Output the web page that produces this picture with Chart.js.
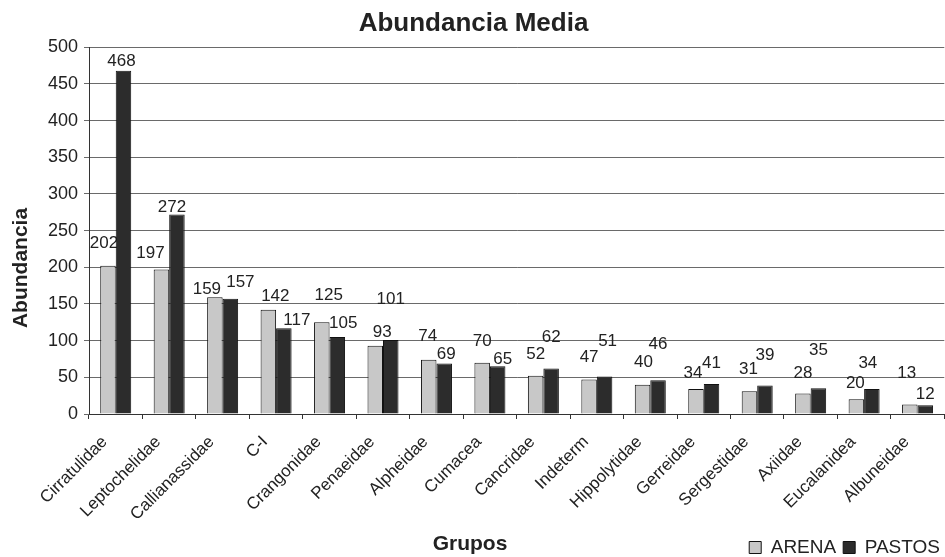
<!DOCTYPE html>
<html>
<head>
<meta charset="utf-8">
<script src="https://cdn.jsdelivr.net/npm/chart.js@4/dist/chart.umd.min.js"></script>
<style>
  html, body { margin: 0; padding: 0; background: #ffffff; }
  #wrap { width: 945px; height: 557px; }
</style>
</head>
<body>
<div id="wrap"><canvas id="chart" width="945" height="557"></canvas></div>
<script>
// Mean abundance per group, sand (ARENA) vs seagrass (PASTOS)
const groups = ['Cirratulidae', 'Leptochelidae', 'Callianassidae', 'C-I', 'Crangonidae', 'Penaeidae',
  'Alpheidae', 'Cumacea', 'Cancridae', 'Indeterm', 'Hippolytidae', 'Gerreidae', 'Sergestidae',
  'Axiidae', 'Eucalanidea', 'Albuneidae'];
const arena  = [202, 197, 159, 142, 125, 93, 74, 70, 52, 47, 40, 34, 31, 28, 20, 13];
const pastos = [468, 272, 157, 117, 105, 101, 69, 65, 62, 51, 46, 41, 39, 35, 34, 12];
const yTicks = [0, 50, 100, 150, 200, 250, 300, 350, 400, 450, 500];

// Hand placement of the value labels (px shift from the default spot above each bar)
const arenaLabelShift  = [[-4,-13],[-11,-6],[-8,2],[7,-4],[7,-17],[7,-3],[-1,-13],[0,-11],
  [0,-12],[0,-12],[1,-12],[-3,-6],[-1,-12],[0,-10],[-1,-6],[-3,-21]];
const pastosLabelShift = [[-2,1],[-5,3],[10,-7],[13,2],[6,-4],[0,-31],[2,1],[5,3],
  [0,-21],[3,-25],[0,-26],[0,-11],[0,-20],[0,-28],[-4,-16],[0,-1]];

const FONT = '"Liberation Sans", Arial, Helvetica, sans-serif';
const TEXT = '#222222';
const PLOT_BOTTOM = 414, PLOT_LEFT = 89;
const PAD_BOTTOM = -10;

// Value labels go in before the bars, so a bar may cover a neighbouring label
const valueLabels = {
  id: 'valueLabels',
  beforeDatasetsDraw(chart) {
    const ctx = chart.ctx;
    const shifts = [arenaLabelShift, pastosLabelShift];
    ctx.save();
    ctx.font = '17px ' + FONT;
    ctx.fillStyle = TEXT;
    ctx.textAlign = 'center';
    ctx.textBaseline = 'middle';
    chart.data.datasets.forEach((ds, di) => {
      chart.getDatasetMeta(di).data.forEach((bar, i) => {
        const [dx, dy] = shifts[di][i];
        ctx.fillText(String(ds.data[i]), bar.x + dx, bar.y - 10 + dy);
      });
    });
    ctx.restore();
  }
};

const axisTitles = {
  id: 'axisTitles',
  afterDraw(chart) {
    const ctx = chart.ctx;
    ctx.save();
    ctx.fillStyle = TEXT;
    ctx.font = 'bold 21px ' + FONT;
    ctx.textAlign = 'center';
    ctx.textBaseline = 'alphabetic';
    ctx.fillText('Grupos', 470, 550);
    ctx.translate(27, 268);
    ctx.rotate(-Math.PI / 2);
    ctx.fillText('Abundancia', 0, 0);
    ctx.restore();
  }
};

new Chart(document.getElementById('chart'), {
  type: 'bar',
  data: {
    labels: groups,
    datasets: [
      { label: 'ARENA', data: arena, backgroundColor: '#c8c8c8', borderColor: '#111111', borderWidth: 1 },
      { label: 'PASTOS', data: pastos, backgroundColor: '#2c2c2c', borderColor: '#111111', borderWidth: 1 }
    ]
  },
  options: {
    responsive: false,
    animation: false,
    devicePixelRatio: 1,
    layout: { padding: { top: 0, left: 0, right: -2, bottom: PAD_BOTTOM } },
    datasets: { bar: { categoryPercentage: 0.58, barPercentage: 1.0 } },
    plugins: {
      title: {
        display: true,
        text: 'Abundancia Media',
        color: TEXT,
        font: { family: FONT, size: 26, weight: 'bold' },
        padding: { top: 8, bottom: 8 }
      },
      legend: {
        position: 'bottom',
        align: 'end',
        labels: {
          color: TEXT,
          font: { family: FONT, size: 19 },
          boxWidth: 12,
          boxHeight: 12,
          padding: 7
        }
      },
      tooltip: { enabled: false }
    },
    scales: {
      x: {
        grid: { drawOnChartArea: false, drawTicks: true, tickLength: 5, offset: true, color: '#333333' },
        border: { color: '#333333', width: 1 },
        ticks: { autoSkip: false, minRotation: 45, maxRotation: 45, padding: 13, labelOffset: -11,
                 color: TEXT, font: { family: FONT, size: 17 } },
        afterFit(scale) {
          const legendH = scale.chart.legend ? scale.chart.legend.height : 0;
          scale.height = (557 - PAD_BOTTOM - legendH) - PLOT_BOTTOM;
        }
      },
      y: {
        min: 0,
        max: 500,
        afterBuildTicks(scale) { scale.ticks = yTicks.map(v => ({ value: v })); },
        grid: { color: '#6a6a6a', lineWidth: 1, tickLength: 5 },
        border: { color: '#333333', width: 1 },
        ticks: { color: TEXT, padding: 6, font: { family: FONT, size: 18 } },
        afterFit(scale) { scale.width = PLOT_LEFT; }
      }
    }
  },
  plugins: [valueLabels, axisTitles]
});
</script>
</body>
</html>
